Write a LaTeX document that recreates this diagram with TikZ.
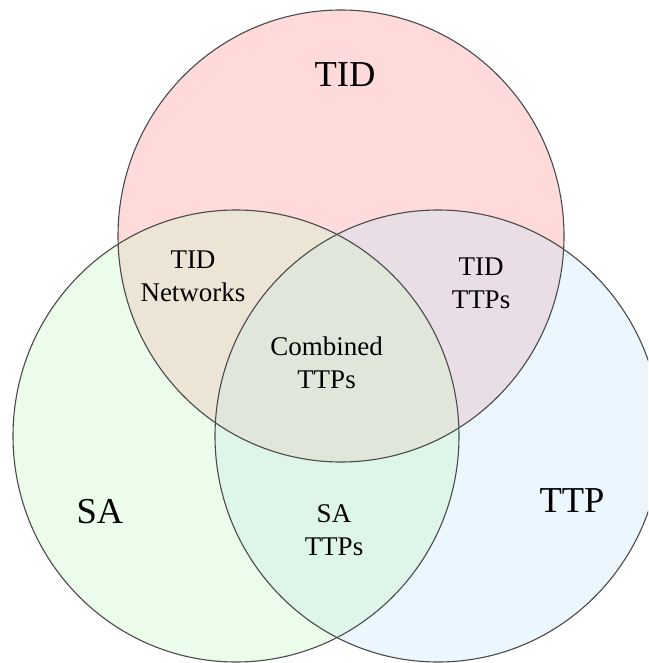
\documentclass[tikz,border=0pt]{standalone}
\usepackage{fontspec}
\setmainfont{Liberation Serif}
\definecolor{fTID}{HTML}{FFDADA}
\definecolor{fSA}{HTML}{EBFCEB}
\definecolor{fTTP}{HTML}{EBF6FF}
\definecolor{fTS}{HTML}{ECE4D5}
\definecolor{fTT}{HTML}{E9DDE6}
\definecolor{fST}{HTML}{DEF6EA}
\definecolor{fALL}{HTML}{E1E6DA}
\definecolor{edge}{HTML}{4A4A4A}
\tikzset{
  venn/.style={x radius=223pt, y radius=226pt},
  biglabel/.style={font=\fontsize{36.5}{42}\selectfont, inner sep=0pt},
  smalllabel/.style={font=\fontsize{27}{33}\selectfont, align=center, inner sep=0pt},
}
\begin{document}
\begin{tikzpicture}[x=1pt,y=-1pt]
\useasboundingbox (0,0) rectangle (648,663);
\fill[white] (0,0) rectangle (648,663);
\coordinate (cTID) at (341,236);
\coordinate (cSA) at (236,436);
\coordinate (cTTP) at (438,436);
\begin{scope}
\clip (0,0) rectangle (648,663);
% single regions
\fill[fSA] (cSA) ellipse [venn];
\fill[fTTP] (cTTP) ellipse [venn];
\fill[fTID] (cTID) ellipse [venn];
% pairwise
\begin{scope}
\clip (cSA) ellipse [venn];
\fill[fST] (cTTP) ellipse [venn];
\end{scope}
\begin{scope}
\clip (cTID) ellipse [venn];
\fill[fTS] (cSA) ellipse [venn];
\end{scope}
\begin{scope}
\clip (cTID) ellipse [venn];
\fill[fTT] (cTTP) ellipse [venn];
\end{scope}
\begin{scope}
\clip (cTID) ellipse [venn];
\clip (cSA) ellipse [venn];
\fill[fALL] (cTTP) ellipse [venn];
\end{scope}
% outlines
\draw[edge, line width=1.1pt] (cSA) ellipse [venn];
\draw[edge, line width=1.1pt] (cTTP) ellipse [venn];
\draw[edge, line width=1.1pt] (cTID) ellipse [venn];
\end{scope}
% labels
\node[biglabel] (tid) at (345,75) {TID};
\node[biglabel] (sa) at (100,512) {SA};
\node[biglabel] (ttp) at (572,501) {TTP};
\node[smalllabel] (tidnet) at (193,276) {TID\\Networks};
\node[smalllabel] (tidttp) at (481,283.5) {TID\\TTPs};
\node[smalllabel] (comb) at (326.5,363) {Combined\\TTPs};
\node[smalllabel] (sattp) at (334,530.5) {SA\\TTPs};
\end{tikzpicture}
\end{document}
